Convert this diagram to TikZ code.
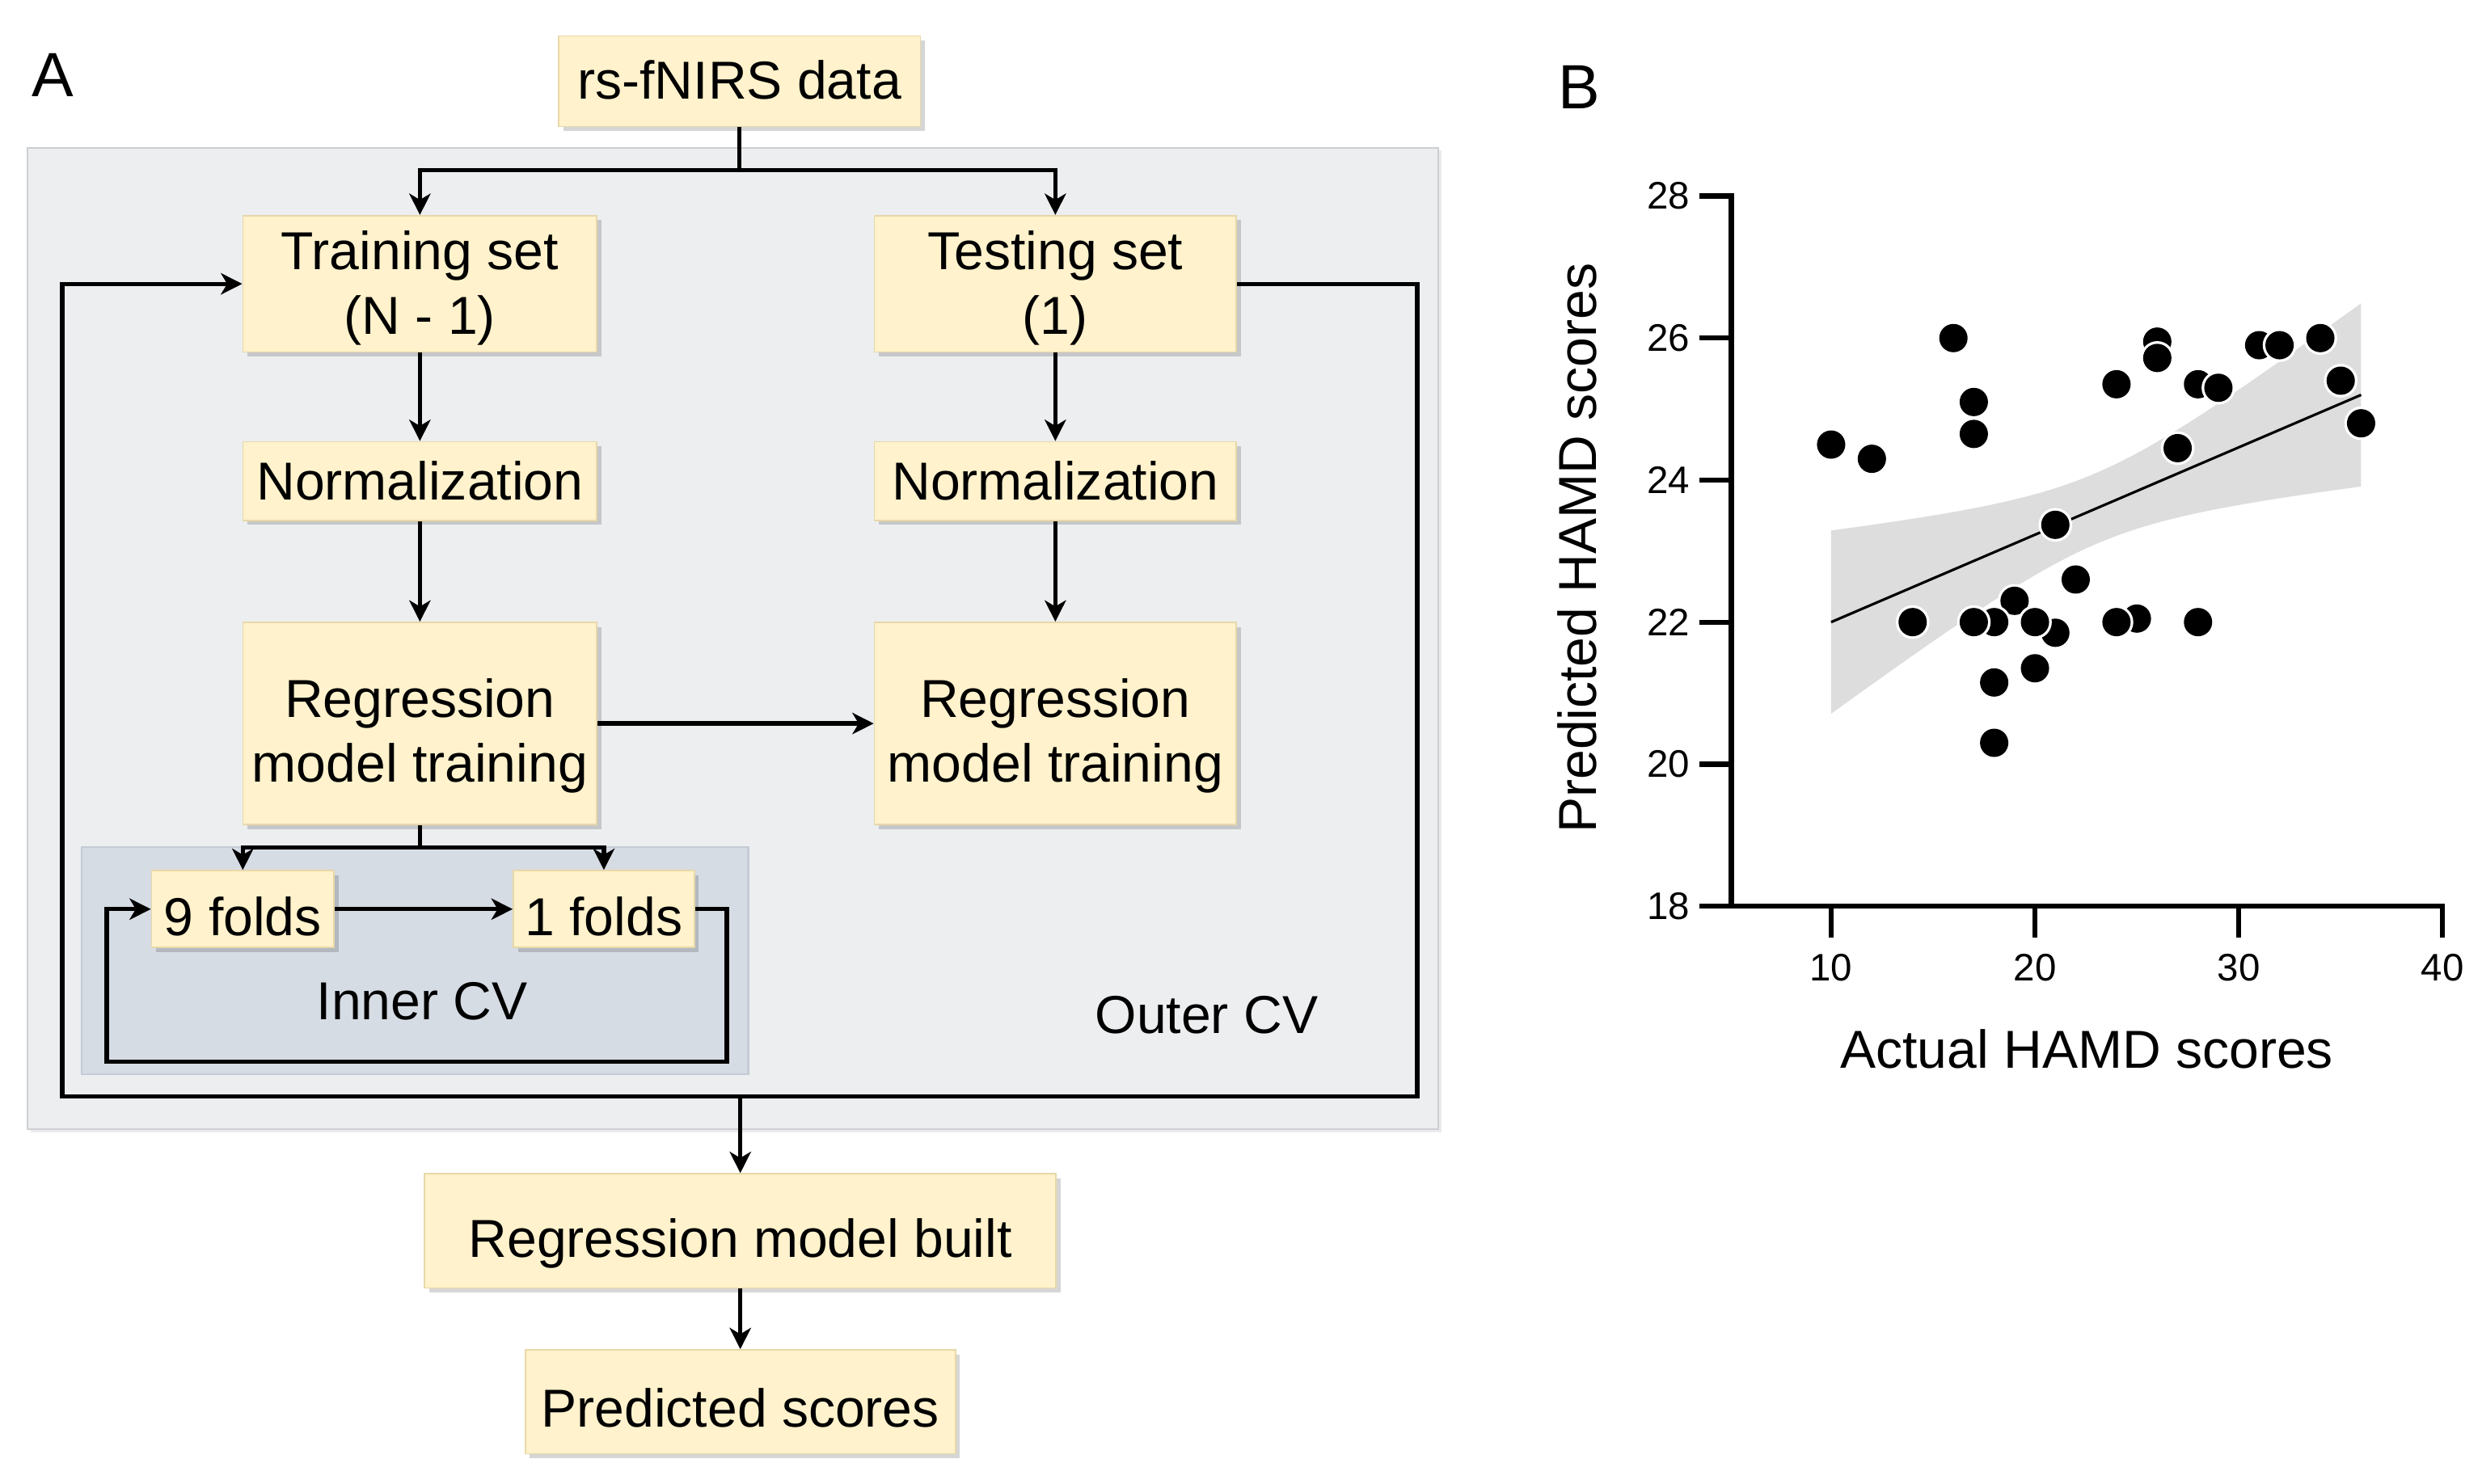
\documentclass[tikz,border=0pt]{standalone}
\usepackage{fontspec}
\setmainfont{Liberation Sans}
\usetikzlibrary{arrows.meta,shadows,calc}
\definecolor{boxfill}{RGB}{255,242,204}
\definecolor{boxline}{RGB}{232,216,168}
\definecolor{outerfill}{RGB}{236,238,240}
\definecolor{outerline}{RGB}{204,207,211}
\definecolor{innerfill}{RGB}{214,220,228}
\definecolor{innerline}{RGB}{196,203,212}
\definecolor{bandgray}{RGB}{221,221,221}
\def\u{0.019629cm}
\begin{document}
\begin{tikzpicture}[x=\u, y=-\u,
  box/.style={draw=boxline, line width=0.5pt, fill=boxfill, inner sep=0pt,
    drop shadow={shadow xshift=1.6pt, shadow yshift=-1.6pt, fill=black, opacity=0.16}},
  btext/.style={align=center, inner sep=0pt, font=\fontsize{18.8}{22.65}\selectfont},
  panel/.style={draw, line width=0.6pt, inner sep=0pt},
  arr/.style={line width=1.5pt, -{Stealth[length=7.5pt,width=7.5pt,inset=2.2pt]}},
  ln/.style={line width=1.5pt},
  lbl/.style={font=\fontsize{18.8}{23.4}\selectfont, inner sep=0pt},
  big/.style={font=\fontsize{22}{26}\selectfont, inner sep=0pt},
  axis/.style={line width=1.8pt, line cap=rect, line join=miter},
  tick/.style={font=\fontsize{13.5}{16}\selectfont},
  dot/.style={fill=black}]
\useasboundingbox (0,0) rectangle (1564,935);

% ---------- Panel A ----------
\node[big] (labA) at (33.3,47.1) {A};

\node[panel, draw=outerline, fill=outerfill, minimum width={889*\u}, minimum height={618.6*\u},
  drop shadow={shadow xshift=1pt, shadow yshift=-1pt, fill=black, opacity=0.08}] (outer) at (462,402.5) {};
\node[panel, draw=innerline, fill=innerfill, minimum width={420*\u}, minimum height={143*\u}] (inner) at (261.5,605.5) {};

\node[box, minimum width={228*\u}, minimum height={57*\u}] (data) at (466,51.2) {};
\node[box, minimum width={223*\u}, minimum height={86*\u}] (train) at (264.6,178.9) {};
\node[box, minimum width={228*\u}, minimum height={86*\u}] (test) at (665,178.9) {};
\node[box, minimum width={223*\u}, minimum height={49.6*\u}] (norm1) at (264.6,303.2) {};
\node[box, minimum width={228*\u}, minimum height={49.6*\u}] (norm2) at (665,303.2) {};
\node[box, minimum width={223*\u}, minimum height={127.5*\u}] (reg1) at (264.6,456) {};
\node[box, minimum width={228*\u}, minimum height={127.5*\u}] (reg2) at (665,456) {};
\node[box, minimum width={115*\u}, minimum height={48.5*\u}] (fold9) at (153,573) {};
\node[box, minimum width={114*\u}, minimum height={48.5*\u}] (fold1) at (380.5,573) {};
\node[box, minimum width={398*\u}, minimum height={72*\u}] (built) at (466.5,775.8) {};
\node[box, minimum width={271*\u}, minimum height={65.4*\u}] (pred) at (466.5,883.5) {};

\node[btext] (datat) at ([yshift=0.5pt]data.center) {rs-fNIRS data};
\node[btext] (traint) at ([yshift=-1.4pt]train.center) {Training set\\(N - 1)};
\node[btext] (testt) at ([yshift=-1.4pt]test.center) {Testing set\\(1)};
\node[btext] (norm1t) at (norm1.center) {Normalization};
\node[btext] (norm2t) at (norm2.center) {Normalization};
\node[btext] (reg1t) at ([yshift=-4.4pt]reg1.center) {Regression\\model training};
\node[btext] (reg2t) at ([yshift=-4.4pt]reg2.center) {Regression\\model training};
\node[btext] (fold9t) at ([yshift=-2.5pt]fold9.center) {9 folds};
\node[btext] (fold1t) at ([yshift=-2.5pt]fold1.center) {1 folds};
\node[btext] (builtt) at ([yshift=-4.4pt]built.center) {Regression model built};
\node[btext] (predt) at ([yshift=-2.2pt]pred.center) {Predicted scores};

\node[lbl] (innerlbl) at (266,631.2) {Inner CV};
\node[lbl] (outerlbl) at (760.3,639.5) {Outer CV};

% split points and loop corners
\coordinate (s1) at (466,107.2);
\coordinate (s2) at (264.6,534);
\coordinate (ol1) at (893,691.2);
\coordinate (ol2) at (39.2,691.2);
\coordinate (ob) at (466.5,691.2);
\coordinate (il1) at (458,669.3);
\coordinate (il2) at (67.3,669.3);

\draw[ln] (data.south) -- (s1);
\draw[arr] (s1) -| (train.north);
\draw[arr] (s1) -| (test.north);
\draw[arr] (train) -- (norm1);
\draw[arr] (norm1) -- (reg1);
\draw[arr] (test) -- (norm2);
\draw[arr] (norm2) -- (reg2);
\draw[arr] (reg1) -- (reg2);
\draw[ln] (reg1.south) -- (s2);
\draw[arr] (s2) -| (fold9.north);
\draw[arr] (s2) -| (fold1.north);
\draw[arr] (fold9) -- (fold1);
\draw[arr, line join=miter] (fold1.east) -| (il1) -- (il2) |- (fold9.west);
\draw[arr, line join=miter] (test.east) -| (ol1) -- (ol2) |- (train.west);
\draw[arr] (ob) -- (built);
\draw[arr] (built) -- (pred);

% ---------- Panel B ----------
\node[big] (labB) at (995,55) {B};
\node[lbl, rotate=90] (ylab) at (994,345.5) {Predicted HAMD scores};
\node[lbl] (xlab) at (1315,661) {Actual HAMD scores};

\begin{scope}[shift={(1025.4,1376.7)}, x=0.25204cm, y=0.87820cm]
  \fill[bandgray] plot[domain=10:36, samples=80, variable=\t]
      (\t, {22+0.12308*(\t-10)+0.5*sqrt(1+0.0335*(\t-23)*(\t-23))})
    -- plot[domain=36:10, samples=80, variable=\t]
      (\t, {22+0.12308*(\t-10)-0.5*sqrt(1+0.0335*(\t-23)*(\t-23))}) -- cycle;
  \draw[line width=0.9pt] (10,22.0) -- (36,25.2);
  \foreach \px/\py in {19/22.3, 18/22.0, 17/22.0, 21/21.85, 20/22.0, 14/22.0, 22/22.6,
      18/21.15, 20/21.35, 18/20.3, 21/23.37, 10/24.5, 12/24.3, 16/26.0, 17/25.1, 17/24.65,
      24/25.35, 26/25.95, 26/25.72, 28/25.35, 29/25.3, 27/24.45, 25/22.05, 24/22.0, 28/22.0,
      31/25.9, 32/25.9, 34/26.0, 35/25.4, 36/24.8} {
    \fill[white] (\px,\py) circle[radius=0.208cm];
    \fill[dot] (\px,\py) circle[radius=0.175cm];
  }
  \draw[axis] (5.1,28) -- (5.1,18) -- (40,18);
  \foreach \t in {18,20,22,24,26,28}
    \draw[axis, line cap=butt] (5.1,\t) -- ++(-1.56,0) node[left, tick, inner sep=2.5pt] {\t};
  \foreach \t in {10,20,30,40} {
    \draw[axis, line cap=butt] (\t,18) -- ++(0,-0.447);
    \node[tick, inner sep=0pt] at (\t,17.13) {\t};
  }
\end{scope}
\end{tikzpicture}
\end{document}
